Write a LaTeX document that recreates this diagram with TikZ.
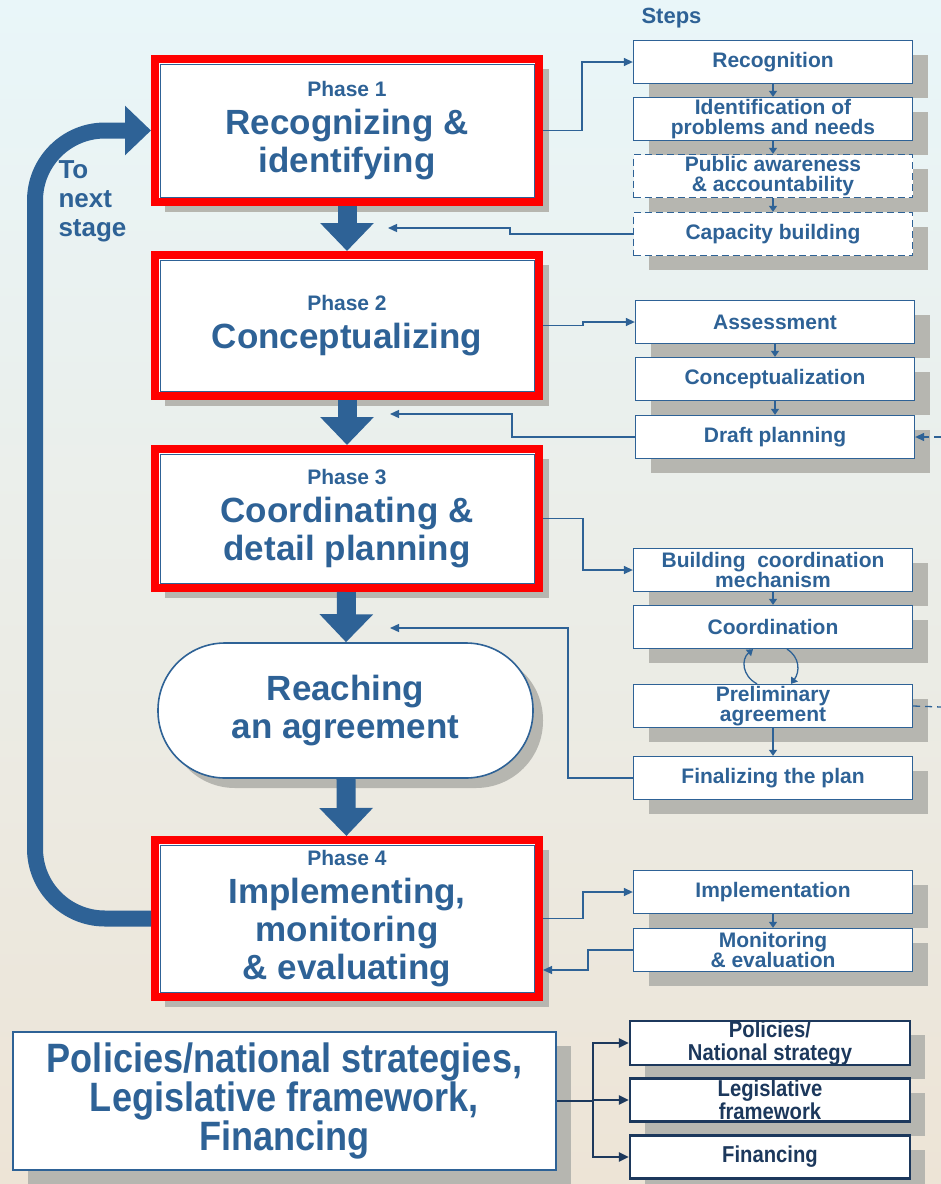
\documentclass[tikz,border=0pt]{standalone}
\usepackage{fontspec}
\setmainfont{Liberation Sans}
\newfontfamily\narrowfont[FakeStretch=0.88]{Liberation Sans}
\usetikzlibrary{arrows.meta,shadows}
\definecolor{phaseblue}{RGB}{46,98,150}
\definecolor{lawnavy}{RGB}{28,56,92}
\definecolor{shadowgray}{RGB}{182,182,176}
\definecolor{bgtop}{RGB}{233,246,249}
\definecolor{bgmid}{RGB}{242,244,238}
\definecolor{bgbottom}{RGB}{237,228,214}
\newcommand{\phaseFont}[0]{\fontsize{35}{38}\selectfont\bfseries}
\newcommand{\phaseTag}[1]{{\fontsize{21}{24}\selectfont\bfseries Phase #1}}
\newcommand{\stepFont}[0]{\fontsize{21}{20}\selectfont\bfseries}
\newcommand{\lawFont}[0]{\narrowfont\fontsize{23}{23}\selectfont\bfseries}
\newcommand{\lawBigFont}[0]{\narrowfont\fontsize{41}{38}\selectfont\bfseries}
\newcommand{\stepX}[0]{773}

\begin{document}
\begin{tikzpicture}[x=1pt, y=-1pt]
  \tikzset{
    phasebox/.style={draw=red, line width=8pt, fill=white, text=phaseblue,
      minimum width=384pt, inner sep=0pt, align=center, font=\phaseFont,
      drop shadow={shadow xshift=10pt, shadow yshift=-10pt, fill=shadowgray, opacity=1}},
    phaseline/.style={draw=phaseblue, line width=1pt},
    stepbox/.style={draw=phaseblue, line width=1.3pt, fill=white, text=phaseblue,
      minimum width=279pt, minimum height=43pt, inner sep=0pt, align=center, font=\stepFont,
      drop shadow={shadow xshift=15pt, shadow yshift=-14pt, fill=shadowgray, opacity=1}},
    dashbox/.style={stepbox, dash pattern=on 7pt off 4pt},
    lawbox/.style={stepbox, draw=lawnavy, line width=2.2pt, text=lawnavy, font=\lawFont, minimum width=280pt},
    bigarrow/.style={draw=phaseblue, line width=19pt, -{Triangle[width=52pt,length=28pt]}},
    looparrow/.style={draw=phaseblue, line width=16pt, rounded corners=70pt, -{Triangle[width=48pt,length=26pt]}},
    linkarrow/.style={draw=phaseblue, line width=1.3pt, -{Triangle[width=8pt,length=9pt]}},
    chainarrow/.style={draw=phaseblue, line width=1.3pt, -{Triangle[width=8pt,length=6pt]}},
    lawarrow/.style={draw=lawnavy, line width=2.2pt, -{Triangle[width=9pt,length=10pt]}}
  }
  \shade[top color=bgtop, middle color=bgmid, bottom color=bgbottom] (0,0) rectangle (941,1184);
  \useasboundingbox (0,0) rectangle (941,1184);

  \node[phasebox, minimum height=143pt] (p1) at (347,130.5) {\phaseTag{1}\\Recognizing \&\\identifying};
  \node[phasebox, minimum height=141pt] (p2) at (347,325.5) {\phaseTag{2}\\Conceptualizing};
  \node[phasebox, minimum height=139pt] (p3) at (347,518.5) {\phaseTag{3}\\Coordinating \&\\detail planning};
  \node[phasebox, draw=phaseblue, line width=1.6pt, rounded corners=67pt, minimum width=375pt,
    minimum height=135pt] (reach) at (345.5,710.5) {Reaching\\an agreement};
  \node[phasebox, minimum height=157pt] (p4) at (347,918.5) {\phaseTag{4}\\Implementing,\\monitoring\\\& evaluating};
  \foreach \p in {p1,p2,p3,p4}
    \draw[phaseline] ([shift={(9,9)}]\p.north west) rectangle ([shift={(-9,-9)}]\p.south east);

  \draw[bigarrow] (p1) -- (p2);
  \draw[bigarrow] (p2) -- (p3);
  \draw[bigarrow] (p3) -- (reach);
  \draw[bigarrow] (reach) -- (p4);
  \draw[looparrow] (p4.west) -| (35,130.5) -- (p1.west);
  \node[anchor=north west, align=left, text=phaseblue, font=\fontsize{26}{29}\selectfont\bfseries]
    (tonext) at (55,157) {To\\next\\stage};

  \node[anchor=west, text=phaseblue, font=\fontsize{22}{24}\selectfont\bfseries] (steps) at (638,18) {Steps};
  \node[stepbox] (rec) at (\stepX,62) {Recognition};
  \node[stepbox] (ident) at (\stepX,119) {Identification of\\problems and needs};
  \node[dashbox] (aware) at (\stepX,176) {Public awareness\\\& accountability};
  \node[dashbox] (capac) at (\stepX,234) {Capacity building};
  \node[stepbox] (assess) at (775,322) {Assessment};
  \node[stepbox] (concept) at (775,379) {Conceptualization};
  \node[stepbox] (draft) at (775,437) {Draft planning};
  \node[stepbox] (build) at (\stepX,570) {Building\ \ coordination\\mechanism};
  \node[stepbox] (coord) at (\stepX,627) {Coordination};
  \node[stepbox] (prelim) at (\stepX,706) {Preliminary\\agreement};
  \node[stepbox] (final) at (\stepX,778) {Finalizing the plan};
  \node[stepbox] (impl) at (\stepX,892) {Implementation};
  \node[stepbox] (monit) at (\stepX,950) {Monitoring\\\& evaluation};

  \draw[chainarrow] (rec) -- (ident);
  \draw[chainarrow] (ident) -- (aware);
  \draw[chainarrow] (aware) -- (capac);
  \draw[chainarrow] (assess) -- (concept);
  \draw[chainarrow] (concept) -- (draft);
  \draw[chainarrow] (build) -- (coord);
  \draw[chainarrow] (prelim) -- (final);
  \draw[chainarrow] (impl) -- (monit);
  \draw[chainarrow] ([xshift=-16pt]prelim.north) .. controls +(-15,-8) and +(-12,10) .. ([xshift=-20pt]coord.south);
  \draw[chainarrow] ([xshift=14pt]coord.south) .. controls +(13,8) and +(9,-12) .. ([xshift=18pt]prelim.north);

  \coordinate (in12) at (388,228);
  \coordinate (in23) at (390,414);
  \coordinate (in3r) at (390,628);
  \coordinate (back4) at (588,970);
  \coordinate (offdraft) at (941,437);
  \coordinate (offprelim) at (941,707);
  \draw[linkarrow] (p1.east) -- ++(39,0) |- (rec.west);
  \draw[linkarrow] (capac.west) -| (510,228) -- (in12);
  \draw[linkarrow] (p2.east) -- ++(40,0) |- (assess.west);
  \draw[linkarrow] (draft.west) -| (512,414) -- (in23);
  \draw[linkarrow, dash pattern=on 7pt off 5pt] (offdraft) -- (draft.east);
  \draw[linkarrow] (p3.east) -- ++(40,0) |- (build.west);
  \draw[linkarrow] (final.west) -| (568,628) -- (in3r);
  \draw[phaseblue, line width=1.3pt, dash pattern=on 7pt off 5pt] (prelim.east) -- (offprelim);
  \draw[linkarrow] (p4.east) -- ++(40,0) |- (impl.west);
  \draw[linkarrow] (monit.west) -| (back4) -- (back4 -| p4.east);

  \node[stepbox, line width=1.6pt, font=\lawBigFont, minimum width=543pt, minimum height=138pt]
    (lawbase) at (284.5,1101) {Policies/national strategies,\\Legislative framework,\\Financing};
  \node[lawbox] (pol) at (770,1043) {Policies/\\National strategy};
  \node[lawbox] (leg) at (770,1100) {Legislative\\framework};
  \node[lawbox] (fin) at (770,1157) {Financing};
  \coordinate (fork) at (593,1101);
  \draw[lawnavy, line width=2.2pt] (lawbase.east) -- (fork);
  \draw[lawarrow] (fork) |- (pol.west);
  \draw[lawarrow] (fork) |- (leg.west);
  \draw[lawarrow] (fork) |- (fin.west);
\end{tikzpicture}
\end{document}
